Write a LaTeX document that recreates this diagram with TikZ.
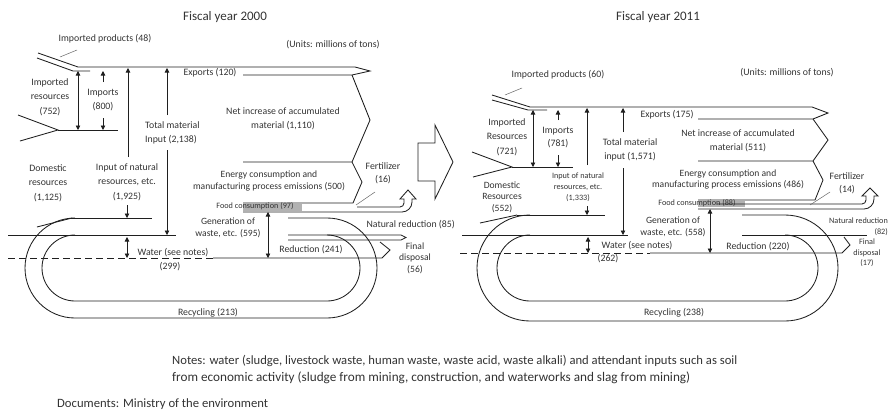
\documentclass[tikz,border=0pt]{standalone}
\usepackage{fontspec}
\usepackage{graphicx}
\setmainfont{Carlito}
\usetikzlibrary{arrows.meta}
\begin{document}
\begin{tikzpicture}[x=1pt,y=-1pt,
  ln/.style={draw=black!88,line width=0.85pt},
  tx/.style={text=black!80,font=\fontsize{9.8}{14.5}\selectfont,align=center,inner sep=0pt},
  tc/.style={tx,font=\fontsize{9.6}{11.5}\selectfont},
  sm/.style={tx,font=\fontsize{8.2}{11}\selectfont},
  ttl/.style={tx,font=\fontsize{13}{15}\selectfont},
  ar/.style={ln,line width=0.7pt,-{Triangle[width=4.5pt,length=4.5pt]}},
  dar/.style={ln,line width=0.7pt,{Triangle[width=4.5pt,length=4.5pt]}-{Triangle[width=4.5pt,length=4.5pt]}},
  thinl/.style={draw=black!60,line width=0.5pt},
  dsh/.style={ln,dash pattern=on 7pt off 4pt}
]
\useasboundingbox (0,0) rectangle (893,412);

% ================= LEFT: Fiscal year 2000 =================
\node[ttl] (t1) at (225,17) {Fiscal year 2000};
\node[tx] (u1) at (333,45) {(Units: millions of tons)};
\node[tx] (ip1) at (105,39) {Imported products (48)};
\node[tx] (ir1) at (50,97) {Imported\\resources\\(752)};
\node[tx] (im1) at (103,100) {Imports\\(800)};
\node[tx] (ex1) at (210,73) {Exports (120)};
\node[tx,align=left,anchor=west] (tm1) at (145,133) {Total material\\Input (2,138)};
\node[tx] (ni1) at (283,119) {Net increase of accumulated\\material (1,110)};
\node[tc] (en1) at (269,181) {Energy consumption and\\manufacturing process emissions (500)};
\node[tx,font=\fontsize{9.8}{13}\selectfont] (fe1) at (383,173) {Fertilizer\\(16)};
\node[tx] (dr1) at (48,183) {Domestic\\resources\\(1,125)};
\node[tx] (in1) at (127,182) {Input of natural\\resources, etc.\\(1,925)};
\node[tc] (gw1) at (228,228) {Generation of\\waste, etc. (595)};
\node[tx,anchor=east] (nr1) at (455,225) {Natural reduction (85)};
\node[tx] (rd1) at (311,250) {Reduction (241)};
\node[tc] (fd1) at (415,258) {Final\\disposal\\(56)};
\node[tx] (wa1) at (173,253) {Water (see notes)};
\node[tx] (wv1) at (170,267) {(299)};
\node[tx] (rc1) at (208,313) {Recycling (213)};

% imported products / exports band
\draw[ln] (38,53) -- (78,67) -- (355,67) -- (370,71) -- (352,75) -- (243,75);
\draw[ln] (37,58) -- (73,71) -- (90,71);
\draw[thinl] (77,50) -- (60,57);
% imported resources line with tail
\draw[ln] (18,115) -- (58,130) -- (20,141);
\draw[ln] (58,130) -- (118,130);
% accumulation zigzags
\draw[ln] (352,75) -- (370,120) -- (352,162) -- (243,162);
\draw[ln] (352,162) -- (362,182) -- (353,203) -- (243,203);
% food consumption band
\fill[black!30] (243,204) rectangle (302,211);
\node[sm] (fc1) at (255,206.5) {Food consumption (97)};
\draw[ln] (243,212) -- (402,212) to[out=0,in=-90] (412,202) -- (412,199) -- (416,199) -- (408,190) -- (400,199) -- (404,199) -- (404,203) to[out=-90,in=0] (400,207) -- (357,207);
\draw[thinl] (375,192) -- (356,205);
% natural reduction band
\draw[ln] (288,235) -- (401,235) -- (406,237.5) -- (401,240) -- (288,240);
% recycling loop
\draw[ln] (288,218) -- (327,218) arc[start angle=-90,end angle=90,radius=50] -- (75,318) arc[start angle=90,end angle=270,radius=50];
\draw[ln] (327,235) arc[start angle=-90,end angle=90,radius=33] -- (75,301) arc[start angle=90,end angle=270,radius=33];
\draw[ln] (70,218) -- (152,218);
\draw[ln] (37,227) -- (72,218);
\draw[ln] (8,235) -- (176,235);
% water / reduction / final disposal
\draw[dsh] (8,258) -- (213,258);
\draw[ln] (213,258) -- (382,258) -- (390,250) -- (380,242);
% arrows
\draw[dar] (78,71) -- (78,130);
\draw[ar] (103,82) -- (103,71);
\draw[ar] (103,118) -- (103,130);
\draw[ar] (128,157) -- (128,68);
\draw[ar] (167,115) -- (167,68);
\draw[ar] (167,150) -- (167,235);
\draw[ar] (127,205) -- (127,218);
\draw[dar] (127,237) -- (127,258);
\draw[dar] (268,212) -- (268,258);

% ================= big arrow =================
\draw[ln] (418,143) -- (435,143) -- (435,125) -- (453,162) -- (435,199) -- (435,181) -- (418,181) -- cycle;

% ================= RIGHT: Fiscal year 2011 =================
\node[ttl] (t2) at (658,17) {Fiscal year 2011};
\node[tx] (u2) at (787,73) {(Units: millions of tons)};
\node[tx] (ip2) at (558,75) {Imported products (60)};
\node[tx] (ir2) at (507,137) {Imported\\Resources\\(721)};
\node[tx,font=\fontsize{9.8}{13}\selectfont] (im2) at (558,138) {Imports\\(781)};
\node[tx] (ex2) at (667,115) {Exports (175)};
\node[tx] (tm2) at (630,150) {Total material\\input (1,571)};
\node[tx] (ni2) at (738,141) {Net increase of accumulated\\material (511)};
\node[tc] (en2) at (728,179.5) {Energy consumption and\\manufacturing process emissions (486)};
\node[tx,font=\fontsize{9.8}{13}\selectfont] (fe2) at (847,183.5) {Fertilizer\\(14)};
\node[tc] (dr2) at (502,197) {Domestic\\Resources\\(552)};
\node[sm] (in2) at (578,187) {Input of natural\\resources, etc.\\(1,333)};
\node[tc] (gw2) at (673,227) {Generation of\\waste, etc. (558)};
\node[sm,align=right,anchor=east] (nr2) at (888,227) {Natural reduction\\(82)};
\node[tx] (rd2) at (758,247) {Reduction (220)};
\node[sm,font=\fontsize{8.2}{10.5}\selectfont] (fd2) at (867,253) {Final\\disposal\\(17)};
\node[tx] (wa2) at (637,246) {Water (see notes)};
\node[tx] (wv2) at (608,259) {(262)};
\node[tx] (rc2) at (674,313) {Recycling (238)};

\draw[ln] (492,95) -- (530,107) -- (812,107) -- (828,113) -- (813,119) -- (698,119);
\draw[ln] (492,100) -- (528,110) -- (547,110);
\draw[thinl] (522,88) -- (505,95);
\draw[ln] (472,152) -- (512,167) -- (473,177);
\draw[ln] (512,167) -- (573,167);
\draw[ln] (813,119) -- (828,140) -- (813,161) -- (698,161);
\draw[ln] (813,161) -- (823,180) -- (815,200) -- (698,200);
\fill[black!30] (698,201) rectangle (745,207);
\node[sm] (fc2) at (697,203.5) {Food consumption (88)};
\draw[ln] (698,209) -- (864,209) to[out=0,in=-90] (874,199) -- (874,196) -- (878,196) -- (870,188) -- (862,196) -- (866,196) -- (866,200) to[out=-90,in=0] (862,204) -- (717,204);
\draw[thinl] (830,192) -- (810,205);
% loop
\draw[ln] (742,215) -- (785,215) arc[start angle=-90,end angle=90,radius=53] -- (530,321) arc[start angle=90,end angle=270,radius=53];
\draw[ln] (785,235) arc[start angle=-90,end angle=90,radius=33] -- (530,301) arc[start angle=90,end angle=270,radius=33];
\draw[ln] (517,215) -- (605,215);
\draw[ln] (480,223) -- (517,215);
\draw[ln] (462,235) -- (628,235);
\draw[ln] (742,235) -- (867,235);
\draw[dsh] (460,253) -- (650,253);
\draw[ln] (650,253) -- (842,253) -- (850,245) -- (844,237);
% arrows
\draw[dar] (533,110) -- (533,167);
\draw[ar] (558,120) -- (558,110);
\draw[ar] (558,155) -- (558,167);
\draw[ar] (587,165) -- (587,108);
\draw[ar] (623,132) -- (623,108);
\draw[ar] (623,168) -- (623,235);
\draw[ar] (587,206) -- (587,215);
\draw[dar] (588,237) -- (588,253);
\draw[dar] (710,209) -- (710,253);

% ================= notes =================
\node[tx,anchor=west] (n1) at (172,361) {\resizebox{565pt}{!}{Notes: water (sludge, livestock waste, human waste, waste acid, waste alkali) and attendant inputs such as soil}};
\node[tx,anchor=west] (n2) at (172,378) {\resizebox{518pt}{!}{from economic activity (sludge from mining, construction, and waterworks and slag from mining)}};
\node[tx,anchor=west] (d1) at (57,404) {\resizebox{211pt}{!}{Documents: Ministry of the environment}};
\end{tikzpicture}
\end{document}
